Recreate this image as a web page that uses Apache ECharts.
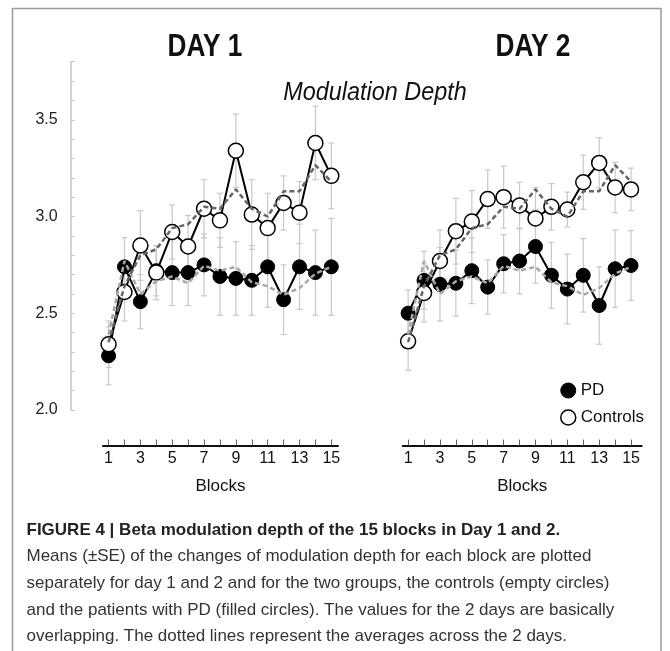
<!DOCTYPE html>
<html>
<head>
<meta charset="utf-8">
<script src="https://cdn.jsdelivr.net/npm/echarts@6/dist/echarts.min.js"></script>
<style>
  html, body { margin: 0; padding: 0; background: #fff; }
  #chart { width: 670px; height: 651px; }
</style>
</head>
<body>
<div id="chart"></div>
<script>
// ---------- data ----------
const blocks = [1, 2, 3, 4, 5, 6, 7, 8, 9, 10, 11, 12, 13, 14, 15];
const xTickLabels = [1, 3, 5, 7, 9, 11, 13, 15];
const yTickLabels = [2.0, 2.5, 3.0, 3.5];

const day1PD      = [2.28, 2.74, 2.56, 2.72, 2.71, 2.71, 2.75, 2.69, 2.68, 2.67, 2.74, 2.57, 2.74, 2.71, 2.74];
const day1PDse    = [0.15, 0.15, 0.14, 0.13, 0.17, 0.17, 0.16, 0.20, 0.19, 0.18, 0.21, 0.18, 0.22, 0.22, 0.25];
const day1Ctrl    = [2.34, 2.61, 2.85, 2.71, 2.92, 2.845, 3.04, 2.98, 3.34, 3.01, 2.94, 3.07, 3.02, 3.38, 3.21];
const day1CtrlSe  = [0.12, 0.15, 0.18, 0.14, 0.14, 0.16, 0.15, 0.14, 0.19, 0.18, 0.18, 0.14, 0.16, 0.19, 0.17];

const day2PD      = [2.50, 2.67, 2.65, 2.655, 2.72, 2.635, 2.756, 2.77, 2.845, 2.696, 2.625, 2.696, 2.54, 2.73, 2.747];
const day2PDse    = [0.12, 0.15, 0.19, 0.17, 0.17, 0.14, 0.15, 0.17, 0.19, 0.17, 0.18, 0.19, 0.20, 0.20, 0.18];
const day2Ctrl    = [2.355, 2.605, 2.77, 2.924, 2.974, 3.09, 3.10, 3.057, 2.99, 3.05, 3.036, 3.177, 3.277, 3.15, 3.14];
const day2CtrlSe  = [0.15, 0.15, 0.16, 0.17, 0.16, 0.15, 0.16, 0.12, 0.16, 0.12, 0.09, 0.14, 0.13, 0.13, 0.11];

// averages across the 2 days (dotted lines)
const avgPD   = [2.39, 2.77, 2.60, 2.665, 2.69, 2.655, 2.745, 2.72, 2.74, 2.66, 2.64, 2.595, 2.63, 2.705, 2.74];
const avgCtrl = [2.35, 2.64, 2.80, 2.83, 2.94, 2.96, 3.05, 3.04, 3.14, 3.04, 3.00, 3.13, 3.13, 3.265, 3.18];

const panelTitles = ['DAY 1', 'DAY 2'];
const subTitle = 'Modulation Depth';
const captionTitle = 'FIGURE 4 | Beta modulation depth of the 15 blocks in Day 1 and 2.';
const captionLines = [
  'Means (\u00B1SE) of the changes of modulation depth for each block are plotted',
  'separately for day 1 and 2 and for the two groups, the controls (empty circles)',
  'and the patients with PD (filled circles). The values for the 2 days are basically',
  'overlapping. The dotted lines represent the averages across the 2 days.'
];

// ---------- helpers ----------
const pairs = (vals) => blocks.map((b, i) => [b, vals[i]]);
const errData = (vals, se) => blocks.map((b, i) => [b, vals[i] - se[i], vals[i] + se[i]]);

function errRender(params, api) {
  const x = api.value(0);
  const lo = api.coord([x, api.value(1)]);
  const hi = api.coord([x, api.value(2)]);
  const cap = 3;
  const st = { stroke: '#c8c8c8', lineWidth: 1.2 };
  return {
    type: 'group',
    children: [
      { type: 'line', shape: { x1: lo[0], y1: lo[1], x2: hi[0], y2: hi[1] }, style: st },
      { type: 'line', shape: { x1: lo[0] - cap, y1: lo[1], x2: lo[0] + cap, y2: lo[1] }, style: st },
      { type: 'line', shape: { x1: hi[0] - cap, y1: hi[1], x2: hi[0] + cap, y2: hi[1] }, style: st }
    ]
  };
}

const FONT = "'Liberation Sans', Arial, sans-serif";

function panelSeries(idx, pd, pdSe, ctrl, ctrlSe) {
  return [
    { type: 'custom', xAxisIndex: idx, yAxisIndex: idx, renderItem: errRender,
      data: errData(pd, pdSe), z: 1, silent: true },
    { type: 'custom', xAxisIndex: idx, yAxisIndex: idx, renderItem: errRender,
      data: errData(ctrl, ctrlSe), z: 1, silent: true },
    { name: 'PD', type: 'line', xAxisIndex: idx, yAxisIndex: idx, data: pairs(pd),
      symbol: 'circle', symbolSize: 14, z: 3,
      lineStyle: { color: '#000', width: 2 },
      itemStyle: { color: '#000', borderColor: '#000', borderWidth: 1 } },
    { name: 'Controls', type: 'line', xAxisIndex: idx, yAxisIndex: idx, data: pairs(ctrl),
      symbol: 'circle', symbolSize: 15, z: 4,
      lineStyle: { color: '#000', width: 2 },
      itemStyle: { color: '#fff', borderColor: '#000', borderWidth: 1.5 } },
    { name: 'avgPD', type: 'line', xAxisIndex: idx, yAxisIndex: idx, data: pairs(avgPD),
      symbol: 'none', z: 5,
      lineStyle: { color: '#a8a8a8', width: 2.5, type: [5, 3] } },
    { name: 'avgCtrl', type: 'line', xAxisIndex: idx, yAxisIndex: idx, data: pairs(avgCtrl),
      symbol: 'none', z: 6,
      lineStyle: { color: '#666', width: 2.5, type: [5, 3] } }
  ];
}

function xAxisFor(idx, min, max) {
  return {
    type: 'value', gridIndex: idx, min: min, max: max, position: 'bottom', offset: 35.5,
    axisLine: { show: true, lineStyle: { color: '#111', width: 2 } },
    axisTick: { show: true, inside: true, length: 6, customValues: blocks,
      lineStyle: { color: '#666', width: 1 } },
    axisLabel: { customValues: xTickLabels, fontSize: 16, color: '#111', margin: 5, fontFamily: FONT },
    splitLine: { show: false },
    name: 'Blocks', nameLocation: 'middle', nameGap: 32,
    nameTextStyle: { fontSize: 17, color: '#111', fontFamily: FONT }
  };
}

const option = {
  animation: false,
  backgroundColor: '#fff',
  grid: [
    { left: 103, width: 235, top: 61.7, height: 348.3 },
    { left: 402.7, width: 239, top: 61.7, height: 348.3 }
  ],
  xAxis: [ xAxisFor(0, 0.65, 15.42), xAxisFor(1, 0.66, 15.67) ],
  yAxis: [
    { type: 'value', gridIndex: 0, min: 2.0, max: 3.8, interval: 0.1, offset: 32.3,
      axisLine: { show: true, lineStyle: { color: '#c4c4c4', width: 1.5 } },
      axisTick: { show: true, inside: true, length: 4, lineStyle: { color: '#c4c4c4', width: 1 } },
      axisLabel: { customValues: yTickLabels, formatter: (v) => v.toFixed(1),
        fontSize: 16, color: '#222', margin: 13, fontFamily: FONT },
      splitLine: { show: false } },
    { type: 'value', gridIndex: 1, min: 2.0, max: 3.8, interval: 0.1, show: false,
      splitLine: { show: false } }
  ],
  legend: {
    data: [
      { name: 'PD', itemStyle: { color: '#000', borderColor: '#000', borderWidth: 1 } },
      { name: 'Controls', itemStyle: { color: '#fff', borderColor: '#000', borderWidth: 1.5 } }
    ],
    icon: 'circle', orient: 'vertical', left: 560, top: 382,
    itemWidth: 15, itemHeight: 15, itemGap: 10, padding: 0,
    textStyle: { fontSize: 17, color: '#111', fontFamily: FONT },
    selectedMode: false
  },
  series: [].concat(
    panelSeries(0, day1PD, day1PDse, day1Ctrl, day1CtrlSe),
    panelSeries(1, day2PD, day2PDse, day2Ctrl, day2CtrlSe)
  ),
  graphic: [
    { type: 'rect', shape: { x: 12.5, y: 8.5, width: 648.5, height: 700 },
      style: { fill: 'none', stroke: '#9a9a9a', lineWidth: 1.5 }, silent: true },
    { type: 'text', x: 205, y: 47, scaleX: 0.82, style: { text: panelTitles[0], textAlign: 'center', textVerticalAlign: 'middle',
      font: "bold 32px " + FONT, fill: '#111' } },
    { type: 'text', x: 533, y: 47, scaleX: 0.82, style: { text: panelTitles[1], textAlign: 'center', textVerticalAlign: 'middle',
      font: "bold 32px " + FONT, fill: '#111' } },
    { type: 'text', x: 375, y: 93, scaleX: 0.9, style: { text: subTitle, textAlign: 'center', textVerticalAlign: 'middle',
      font: "italic 26px " + FONT, fill: '#111' } },
    { type: 'text', x: 26.5, y: 530, style: { text: captionTitle, textAlign: 'left', textVerticalAlign: 'middle',
      font: "bold 17px " + FONT, fill: '#222' } }
  ].concat(captionLines.map((t, i) => ({
    type: 'text', x: 26.5, y: 556.7 + i * 26.7,
    style: { text: t, textAlign: 'left', textVerticalAlign: 'middle', font: "17px " + FONT, fill: '#333' }
  })))
};

const chart = echarts.init(document.getElementById('chart'), null, { renderer: 'canvas' });
chart.setOption(option);
</script>
</body>
</html>
